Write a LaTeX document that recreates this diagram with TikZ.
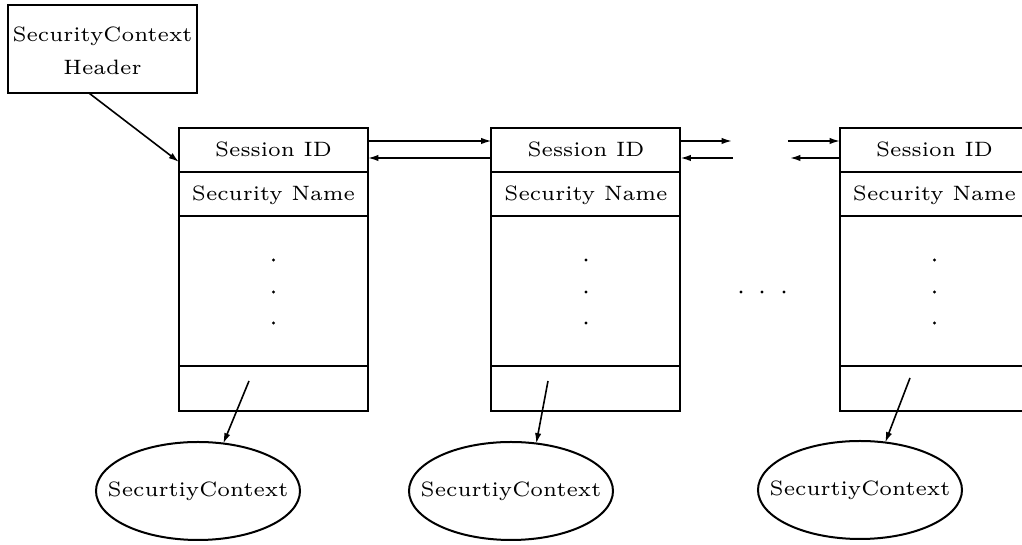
\documentclass[tikz,border=0pt]{standalone}
\usepackage{fontspec}
\usetikzlibrary{arrows.meta,shapes.geometric}
% small-design-size Latin Modern for the diagram labels
\newfontfamily\labelfont{lmroman6-regular}[Extension=.otf]
\begin{document}
\begin{tikzpicture}[x=0.25pt,y=-0.25pt,line width=0.5pt,
  every node/.style={font=\labelfont\fontsize{5.2}{8.25}\selectfont,inner sep=0pt,outer sep=0pt},
  cell/.style={draw,rectangle,minimum width=47.25pt,text height=3.5pt,text depth=0.3pt},
  oval/.style={draw,ellipse,minimum width=51pt,minimum height=24.5pt},
  lbl/.style={text height=3.5pt,text depth=0.9pt},
  arr/.style={line width=0.4pt,-{Latex[length=2.6pt,width=1.6pt]}}]
\path[use as bounding box] (0,0) rectangle (1022,545);
\clip (0,0) rectangle (1022,545);

% header block
\node[draw,minimum width=47.25pt,minimum height=22pt] (h) at (102.5,49) {};
\node[align=center] (ht) at (102.5,50.5) {SecurityContext\\Header};

% the chained session records
\foreach \i/\x in {1/273.5,2/586,3/934.5} {
  \node[cell,minimum height=11pt]    (s\i) at (\x,150)   {Session ID};
  \node[cell,minimum height=11pt]    (n\i) at (\x,194)   {Security Name};
  \node[cell,minimum height=37.5pt]  (m\i) at (\x,291)   {};
  \node[cell,minimum height=11.25pt] (b\i) at (\x,388.5) {};
  \foreach \y in {260,292,323} \fill (\x,\y) circle[radius=1.6];
}

% context objects
\foreach \i/\x/\y in {1/198/491,2/511/491,3/860/490} {
  \node[oval] (e\i) at (\x,\y) {};
  \node[lbl] (t\i) at (e\i) {SecurtiyContext};
}

% ellipsis between records
\foreach \x in {741,762,784} \fill (\x,292) circle[radius=1.6];

% links
\draw[arr] ([xshift=-3.4pt]h.south) -- ([yshift=-3pt]s1.west);
\draw[arr] ([yshift=2.25pt]s1.east) -- ([yshift=2.25pt]s2.west);
\draw[arr] ([yshift=-2pt]s2.west) -- ([yshift=-2pt]s1.east);

\coordinate (ga) at (732,141);
\coordinate (gb) at (733,158);
\coordinate (gc) at (788,141);
\coordinate (gd) at (790,158);
\draw[arr] ([yshift=2.25pt]s2.east) -- (ga);
\draw[arr] (gb) -- ([yshift=-2pt]s2.east);
\draw[arr] (gc) -- ([yshift=2.25pt]s3.west);
\draw[arr] ([yshift=-2pt]s3.west) -- (gd);

\coordinate (p1) at (249,381);
\coordinate (p2) at (548,381);
\coordinate (p3) at (910,378);
\draw[arr] (p1) -- (e1.62);
\draw[arr] (p2) -- (e2.62);
\draw[arr] (p3) -- (e3.62);
\end{tikzpicture}
\end{document}
